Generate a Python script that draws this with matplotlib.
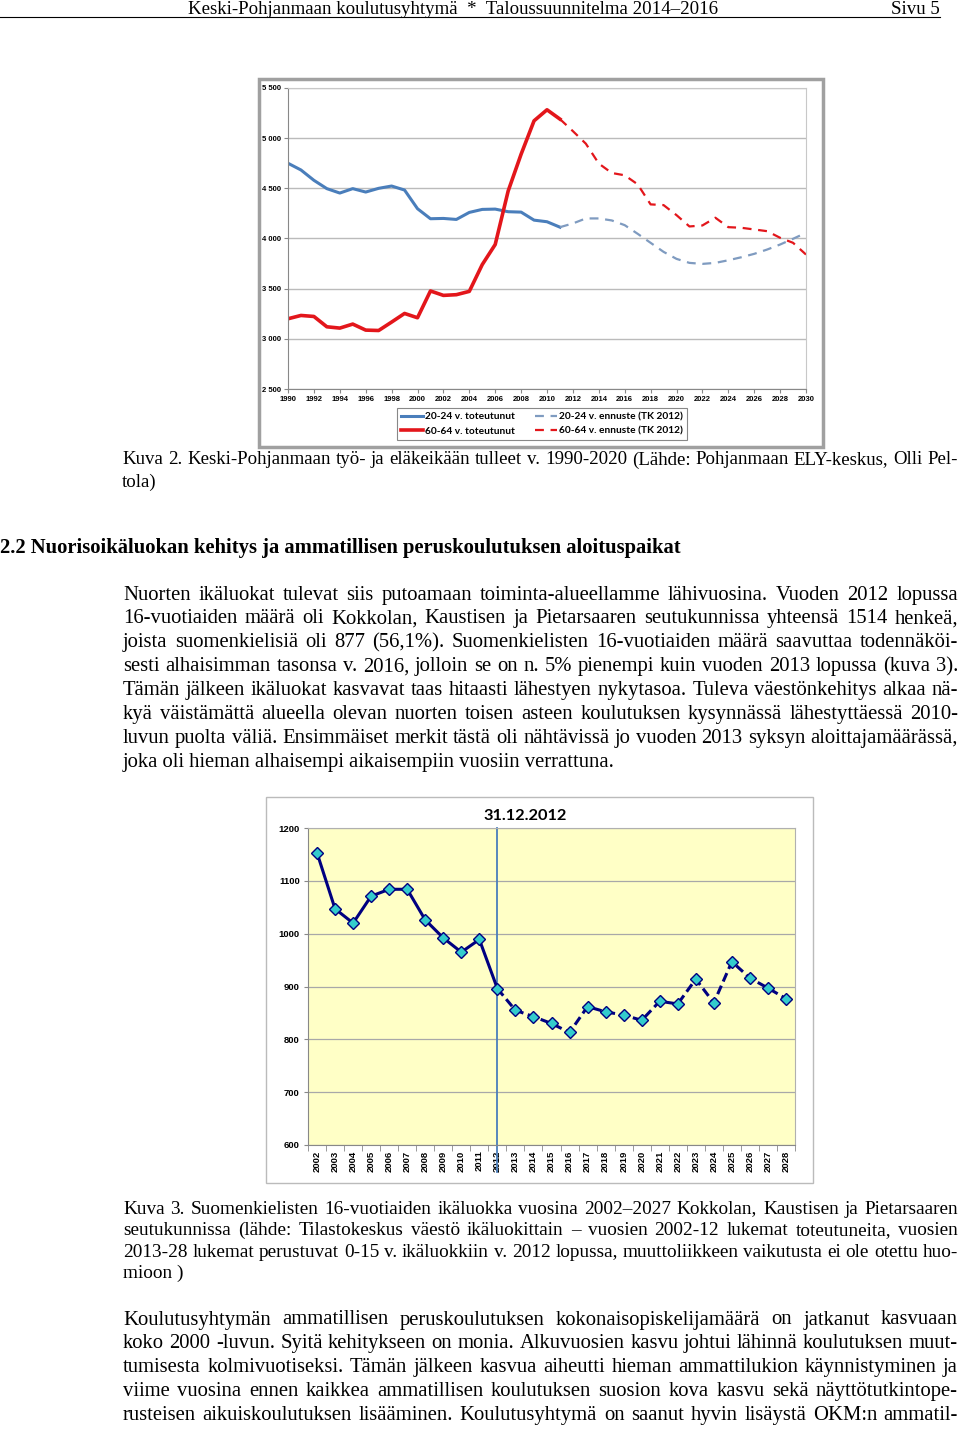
import matplotlib
matplotlib.use("Agg")
import numpy as np
import matplotlib.pyplot as plt
from matplotlib.font_manager import FontProperties
from matplotlib.lines import Line2D
from matplotlib.patches import Rectangle

# --- kuva 2: työ- ja eläkeikään tulleet ---
years_act = list(range(1990, 2012))
years_fc = list(range(2011, 2031))
blue_act = [4750, 4683, 4580, 4497, 4453, 4497, 4463, 4500, 4523, 4483, 4297,
            4197, 4200, 4190, 4260, 4290, 4293, 4267, 4263, 4183, 4167, 4113]
blue_fc = [4113, 4150, 4200, 4200, 4180, 4133, 4047, 3957, 3867, 3797, 3757,
           3747, 3757, 3783, 3813, 3847, 3890, 3940, 3997, 4057]
red_act = [3200, 3233, 3223, 3120, 3107, 3147, 3087, 3083, 3167, 3253, 3210,
           3477, 3433, 3440, 3473, 3740, 3940, 4473, 4840, 5173, 5283, 5190]
red_fc = [5190, 5070, 4945, 4747, 4653, 4630, 4540, 4340, 4333, 4233, 4120,
          4130, 4207, 4113, 4107, 4090, 4073, 4007, 3957, 3840]
legend_labels = ["20-24 v. toteutunut", "60-64 v. toteutunut",
                 "20-24 v. ennuste (TK 2012)", "60-64 v. ennuste (TK 2012)"]

# --- kuva 3: suomenkielisten 16-vuotiaiden ikäluokka ---
years2 = list(range(2002, 2029))
cohort = [1153, 1047, 1020, 1071, 1084, 1084, 1026, 992, 965, 989, 896,
          855, 843, 830, 813, 862, 852, 846, 836, 872, 867, 914, 869, 947,
          916, 897, 877]
cut_year = 2012

# --- tekstit ---
header = "Keski-Pohjanmaan koulutusyhtymä  *  Taloussuunnitelma 2014–2016"
caption2 = ["Kuva 2. Keski-Pohjanmaan työ- ja eläkeikään tulleet v. 1990-2020 (Lähde: Pohjanmaan ELY-keskus, Olli Pel-",
            "tola)"]
heading = "2.2 Nuorisoikäluokan kehitys ja ammatillisen peruskoulutuksen aloituspaikat"
para1 = ["Nuorten ikäluokat tulevat siis putoamaan toiminta-alueellamme lähivuosina. Vuoden 2012 lopussa",
         "16-vuotiaiden määrä oli Kokkolan, Kaustisen ja Pietarsaaren seutukunnissa yhteensä 1514 henkeä,",
         "joista suomenkielisiä oli 877 (56,1%). Suomenkielisten 16-vuotiaiden määrä saavuttaa todennäköi-",
         "sesti alhaisimman tasonsa v. 2016, jolloin se on n. 5% pienempi kuin vuoden 2013 lopussa (kuva 3).",
         "Tämän jälkeen ikäluokat kasvavat taas hitaasti lähestyen nykytasoa. Tuleva väestönkehitys alkaa nä-",
         "kyä väistämättä alueella olevan nuorten toisen asteen koulutuksen kysynnässä lähestyttäessä 2010-",
         "luvun puolta väliä. Ensimmäiset merkit tästä oli nähtävissä jo vuoden 2013 syksyn aloittajamäärässä,",
         "joka oli hieman alhaisempi aikaisempiin vuosiin verrattuna."]
caption3 = ["Kuva 3. Suomenkielisten 16-vuotiaiden ikäluokka vuosina 2002–2027 Kokkolan, Kaustisen ja Pietarsaaren",
            "seutukunnissa (lähde: Tilastokeskus väestö ikäluokittain – vuosien 2002-12 lukemat toteutuneita, vuosien",
            "2013-28 lukemat perustuvat 0-15 v. ikäluokkiin v. 2012 lopussa, muuttoliikkeen vaikutusta ei ole otettu huo-",
            "mioon )"]
para2 = ["Koulutusyhtymän ammatillisen peruskoulutuksen kokonaisopiskelijamäärä on jatkanut kasvuaan",
         "koko 2000 -luvun. Syitä kehitykseen on monia. Alkuvuosien kasvu johtui lähinnä koulutuksen muut-",
         "tumisesta kolmivuotiseksi. Tämän jälkeen kasvua aiheutti hieman ammattilukion käynnistyminen ja",
         "viime vuosina ennen kaikkea ammatillisen koulutuksen suosion kova kasvu sekä näyttötutkintope-",
         "rusteisen aikuiskoulutuksen lisääminen. Koulutusyhtymä on saanut hyvin lisäystä OKM:n ammatil-"]

W, H = 960, 1429
SERIF = "Liberation Serif"
fig = plt.figure(figsize=(W / 100, H / 100), dpi=100)
renderer = fig.canvas.get_renderer()


def fx(px):
    return px / W


def fy(py):
    return 1 - py / H


def text_w(s, prop):
    return renderer.get_text_width_height_descent(s, prop, ismath=False)[0]


def justified(lines, y0, dy, x0=123, x1=958, last=False):
    """tasattu kappale: koko sovitetaan tiukimpaan riviin, sanat sijoitetaan yksitellen"""
    n_just = len(lines) if last else len(lines) - 1
    base = FontProperties(family=SERIF, size=10)
    factor = min((x1 - x0) / text_w(l, base) for l in lines[:n_just])
    prop = FontProperties(family=SERIF, size=10 * factor)
    for i, line in enumerate(lines):
        y = y0 + i * dy
        words = line.split()
        if i >= n_just or len(words) == 1:
            fig.text(fx(x0), fy(y), line, fontproperties=prop, va="center")
            continue
        widths = [text_w(w, prop) for w in words]
        gap = (x1 - x0 - sum(widths)) / (len(words) - 1)
        x = x0
        for w, wd in zip(words, widths):
            fig.text(fx(x), fy(y), w, fontproperties=prop, va="center")
            x += wd + gap


# otsikkorivi
fig.text(fx(453), fy(9), header, family=SERIF, size=13.6, ha="center", va="center")
fig.text(fx(940), fy(9), "Sivu 5", family=SERIF, size=13.6, ha="right", va="center")
fig.add_artist(Line2D([0, fx(940)], [fy(17), fy(17)], transform=fig.transFigure,
                      color="black", lw=0.8))

# kuvien kehykset
fig.add_artist(Rectangle((fx(259), fy(447)), (823 - 259) / W, (447 - 79) / H,
                         transform=fig.transFigure, fill=False, ec="#A0A0A0", lw=2.5, zorder=0))
fig.add_artist(Rectangle((fx(266), fy(1183)), (813 - 266) / W, (1183 - 797) / H,
                         transform=fig.transFigure, fill=False, ec="#BBBBBB", lw=1, zorder=0))

# ---------------- kuva 2 ----------------
ax1 = fig.add_axes([fx(288), fy(389), (806 - 288) / W, (389 - 88) / H])
c_blue, c_blue2, c_red = "#4A7EBB", "#7F9BC0", "#E3161B"
ax1.plot(years_act, blue_act, color=c_blue, lw=2.2)
ax1.plot(years_fc, blue_fc, color=c_blue2, lw=1.6, ls=(0, (4, 3)))
ax1.plot(years_act, red_act, color=c_red, lw=2.6)
ax1.plot(years_fc, red_fc, color=c_red, lw=1.6, ls=(0, (4, 3)))
ax1.set_xlim(1990, 2030)
ax1.set_ylim(2500, 5500)
ax1.set_xticks(range(1990, 2031, 2))
yt = list(range(2500, 5501, 500))
ax1.set_yticks(yt)
ax1.set_yticklabels([f"{v:,}".replace(",", " ") for v in yt])
ax1.tick_params(labelsize=5.5, length=3, color="#888888", pad=2)
for lbl in ax1.get_xticklabels() + ax1.get_yticklabels():
    lbl.set_fontweight("bold")
    lbl.set_family("Liberation Sans")
ax1.grid(axis="y", color="#BBBBBB", lw=1)
ax1.set_axisbelow(True)
for s in ["top", "right"]:
    ax1.spines[s].set_color("#C8C8C8")
for s in ["left", "bottom"]:
    ax1.spines[s].set_color("#888888")

handles = [Line2D([], [], color=c_blue, lw=2.2), Line2D([], [], color=c_red, lw=2.6),
           Line2D([], [], color=c_blue2, lw=1.6, ls=(0, (4, 3))),
           Line2D([], [], color=c_red, lw=1.6, ls=(0, (4, 3)))]
leg = fig.legend(handles, legend_labels, loc="center", bbox_to_anchor=(fx(542), fy(424)),
                 ncol=2, prop=FontProperties(family="Lato", weight="bold", size=7.3),
                 fancybox=False, edgecolor="#888888", framealpha=1, handlelength=2.2,
                 columnspacing=2.0, handletextpad=0.2, borderpad=0.4, labelspacing=0.5)
leg.get_frame().set_linewidth(0.8)

# ---------------- kuva 3 ----------------
ax2 = fig.add_axes([fx(308), fy(1145), (795 - 308) / W, (1145 - 828) / H])
ax2.set_facecolor("#FFFFC6")
x = np.arange(len(years2))
k = years2.index(cut_year)
navy = "#000080"
ax2.plot(x[:k + 1], cohort[:k + 1], color=navy, lw=2.2, zorder=3)
ax2.plot(x[k:], cohort[k:], color=navy, lw=2.2, ls=(0, (3, 1.5)), zorder=3)
ax2.plot(x, cohort, ls="none", marker="D", ms=6.3, mfc="#33CCCC", mec=navy, mew=1, zorder=4)
ax2.set_xlim(-0.5, len(years2) - 0.5)
ax2.set_ylim(600, 1200)
ax2.set_yticks(range(600, 1201, 100))
ax2.set_xticks(x)
ax2.set_xticklabels([str(y) for y in years2], rotation=90)
ax2.set_xticks(np.arange(len(years2) + 1) - 0.5, minor=True)
ax2.tick_params(axis="x", which="major", length=0, pad=4)
ax2.tick_params(axis="x", which="minor", length=4, color="#888888")
ax2.tick_params(axis="y", length=3, color="#888888", pad=3)
for lbl in ax2.get_xticklabels() + ax2.get_yticklabels():
    lbl.set_fontweight("bold")
    lbl.set_family("Liberation Sans")
    lbl.set_fontsize(6.8)
ax2.grid(axis="y", color="#A8A8A8", lw=0.9)
ax2.set_axisbelow(True)
for s in ["top", "right"]:
    ax2.spines[s].set_color("#B0B0B0")
for s in ["left", "bottom"]:
    ax2.spines[s].set_color("#888888")
ax2.axvline(k, ymin=-0.085, ymax=1, color="#4A7EBB", lw=1.3, clip_on=False, zorder=2)
fig.text(fx(525), fy(816), "31.12.2012", family="Lato", weight="bold", size=11.8,
         ha="center", va="center")

# ---------------- tekstit ----------------
justified(caption2, 460, 22, x0=122)
fig.text(0.0, fy(548), heading, family=SERIF, weight="bold", size=14.9, va="center")
justified(para1, 595, 23.9)
justified(caption3, 1209, 21.6)
justified(para2, 1320, 23.8, last=True)

fig.savefig("out.png", dpi=100)
